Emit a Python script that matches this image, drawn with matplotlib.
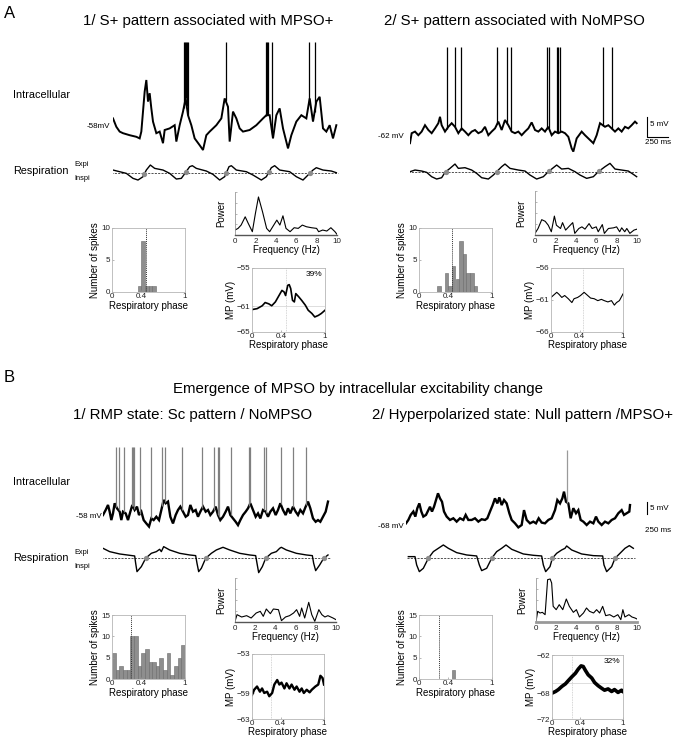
import numpy as np
import matplotlib
matplotlib.use('Agg')
import matplotlib.pyplot as plt

plt.rcParams['font.family'] = ['Liberation Sans', 'DejaVu Sans']

# ---------------- DATA ----------------
# A1 intracellular trace (ms, mV) and spikes
A1_t = [0,40,80,120,200,280,320,340,360,380,400,420,440,460,480,520,560,600,620,680,740,760,800,840,872,900,940,980,1040,1080,1120,1160,1240,1300,1340,1380,1400,1440,1480,1520,1560,1640,1720,1800,1840,1880,1920,1960,2000,2040,2100,2140,2200,2260,2320,2360,2400,2440,2480,2520,2560,2600,2640,2680]
A1_mv = [-56.1,-58.2,-59.4,-59.8,-60.3,-60.7,-61.1,-59.4,-54.4,-49.4,-46.5,-51.9,-49.8,-53.6,-56.9,-59.8,-59.4,-62.3,-59.0,-58.6,-57.8,-61.9,-57.8,-54.4,-51.1,-55.3,-57.8,-61.1,-62.8,-64.0,-60.3,-59.4,-57.8,-56.1,-51.1,-53.2,-61.9,-54.4,-56.1,-58.6,-59.4,-59.0,-57.8,-56.1,-55.3,-55.3,-61.1,-55.3,-53.6,-58.6,-63.6,-60.3,-56.9,-55.3,-56.1,-51.1,-56.9,-51.9,-50.7,-58.6,-59.4,-57.8,-61.1,-57.8]
A1_spikes = [848,860,872,884,900,1352,1832,1848,1864,1912,2352,2420]
A1_spike_peak = -37.0
A1_resp_t = [0,80,160,240,300,360,400,448,500,600,680,760,820,872,920,952,1000,1120,1200,1280,1340,1392,1420,1480,1600,1680,1780,1840,1900,1940,2000,2120,2200,2280,2340,2400,2440,2520,2620,2680]
A1_resp = [8,3,-2,-17,-22,-12,8,23,13,8,-2,-19,-17,1,18,21,13,5,-5,-22,-12,18,21,8,3,-7,-22,-12,15,21,8,3,-12,-22,-7,8,15,8,5,0]
A1_dots = [376,872,1360,1872,2360]

# A2
A2_t = [0,20,60,100,140,180,220,260,300,340,360,380,420,460,500,540,580,620,660,700,740,780,820,860,900,940,980,1020,1060,1100,1140,1180,1220,1260,1300,1340,1380,1420,1460,1500,1540,1580,1620,1660,1700,1740,1780,1820,1860,1900,1940,1960,2000,2060,2100,2140,2200,2240,2280,2340,2380,2420,2460,2500,2540,2580,2620,2660,2700,2720]
A2_mv = [-63.8,-61.3,-60.9,-61.8,-60.9,-59.3,-60.5,-61.3,-60.1,-58.8,-57.2,-59.3,-60.9,-59.7,-58.8,-59.7,-61.3,-60.1,-60.9,-61.8,-60.9,-60.5,-61.3,-60.9,-59.7,-61.8,-60.9,-60.1,-58.4,-60.5,-58.0,-59.3,-60.9,-61.3,-60.9,-61.8,-60.9,-60.1,-58.6,-60.5,-60.9,-60.1,-60.9,-59.7,-61.8,-60.9,-61.3,-60.9,-61.3,-62.2,-65.1,-65.9,-62.6,-60.9,-61.8,-62.6,-63.8,-61.8,-58.8,-59.7,-59.3,-60.1,-60.9,-60.1,-60.9,-59.7,-60.1,-59.3,-58.4,-58.8]
A2_spikes = [440,540,608,1048,1168,1208,1640,1668,1760,1780,1800,2320,2428]
A2_spike_peak = -39.7
A2_resp_t = [0,60,140,200,260,320,380,420,480,540,580,660,740,800,860,940,1000,1040,1100,1140,1200,1300,1380,1440,1520,1600,1660,1720,1760,1820,1900,1980,2040,2120,2200,2260,2340,2400,2460,2540,2620,2680,2720]
A2_resp = [0,5,2,-2,-15,-22,-18,-2,10,23,10,12,5,-5,-18,-22,-10,0,15,23,10,5,2,-10,-22,-15,0,12,20,8,10,0,-10,-20,-15,0,15,25,8,5,2,-8,-15]
A2_dots = [428,1040,1668,2272]

# B1
B1_t = [0,32,60,80,100,120,140,168,200,220,240,272,300,328,352,380,408,432,460,488,520,552,580,608,640,672,700,728,752,780,808,840,872,900,928,960,992,1020,1048,1080,1112,1140,1168,1200,1232,1260,1288,1320,1352,1380,1408,1440,1472,1500,1528,1560,1592,1620,1648,1680,1712,1740,1768,1800,1832,1860,1888,1920,1952,1980,2008,2040,2072,2100,2128,2160,2192,2220,2248,2280,2312,2340,2368,2400,2432,2460,2488,2520,2552,2580,2608,2640,2672,2700]
B1_mv = [-57.6,-55.5,-53.4,-56.2,-59.7,-56.9,-52.7,-54.8,-56.2,-59.7,-56.2,-56.9,-59.7,-56.2,-53.4,-55.5,-54.1,-57.6,-56.2,-59.7,-61.1,-62.4,-59.0,-59.7,-58.3,-59.7,-55.5,-51.3,-52.7,-52.0,-58.3,-61.1,-57.6,-55.5,-54.1,-56.2,-58.3,-57.6,-53.4,-56.2,-55.5,-58.3,-56.2,-54.1,-56.2,-55.5,-57.6,-56.2,-54.1,-57.6,-59.7,-58.3,-56.2,-54.1,-57.6,-59.0,-60.4,-61.8,-59.7,-57.6,-56.2,-54.8,-52.7,-55.5,-58.3,-56.9,-59.0,-55.5,-56.2,-58.3,-56.2,-54.8,-57.6,-55.5,-52.7,-55.5,-57.6,-54.8,-56.9,-54.1,-56.2,-57.6,-55.5,-56.9,-54.1,-52.0,-54.8,-59.0,-60.4,-59.7,-60.4,-58.3,-56.2,-52.0]
B1_spikes = [160,188,252,348,360,372,440,580,712,740,952,1192,1328,1380,1392,1532,1752,1768,1928,1960,2132,2280,2440]
B1_spike_peak = -29.4
B1_resp_t = [0,80,200,320,380,392,408,460,512,580,640,680,700,728,800,920,1040,1112,1128,1148,1180,1232,1300,1360,1440,1520,1640,1760,1832,1848,1868,1912,1952,2020,2080,2120,2140,2200,2320,2440,2512,2528,2552,2600,2648,2700]
B1_resp = [30,20,13,9,7,-15,-40,-25,0,15,20,27,20,35,25,15,10,8,-15,-40,-30,0,15,25,33,25,15,10,8,-15,-43,-25,0,15,20,30,33,25,15,10,8,-15,-37,-20,0,10]
B1_dots = [512,1232,1952,2648]

# B2
B2_t = [0,28,56,88,112,136,160,184,208,240,268,288,312,336,360,384,408,432,456,488,528,568,608,648,688,716,748,788,828,868,908,948,976,1008,1040,1068,1096,1120,1148,1176,1208,1240,1268,1308,1348,1388,1416,1448,1488,1528,1560,1592,1628,1668,1708,1748,1788,1816,1848,1876,1896,1920,1948,1976,2008,2040,2068,2096,2128,2168,2208,2248,2280,2308,2348,2388,2428,2468,2508,2548,2588,2616,2648,2680,2688]
B2_mv = [-67.3,-65.9,-63.8,-62.4,-64.5,-61.0,-59.0,-62.4,-64.5,-63.8,-61.8,-60.4,-62.4,-60.4,-57.6,-54.8,-56.9,-58.3,-62.4,-64.5,-65.9,-65.2,-66.6,-65.2,-65.9,-63.8,-65.9,-65.9,-65.2,-66.6,-65.6,-65.9,-65.2,-62.4,-59.7,-56.9,-59.0,-56.5,-59.7,-57.6,-59.0,-63.1,-65.9,-67.3,-69.0,-68.0,-61.8,-65.9,-67.3,-66.6,-67.3,-65.2,-67.0,-67.3,-65.9,-65.2,-61.8,-57.6,-59.0,-56.9,-54.1,-58.3,-59.0,-65.2,-61.0,-63.1,-61.8,-65.9,-66.6,-68.0,-66.6,-67.3,-64.5,-66.6,-68.0,-66.6,-67.3,-65.9,-65.2,-63.1,-61.8,-63.8,-63.1,-62.4,-59.7]
B2_spikes = [1936]
B2_spike_peak = -36.75
B2_resp_t = [28,108,128,160,208,268,328,388,448,508,608,728,848,880,908,968,1028,1088,1148,1200,1268,1408,1528,1628,1648,1676,1728,1756,1808,1868,1908,1928,1988,2108,2248,2360,2376,2408,2468,2508,2568,2628,2680,2728]
B2_resp = [5,5,-20,-40,-30,0,20,30,40,30,17,10,7,-20,-37,-30,0,20,30,40,27,13,9,7,-20,-40,-25,0,15,25,30,37,25,13,8,7,-20,-40,-25,0,15,30,38,30]
B2_dots = [268,1028,1756,2508]

# Spike phase histograms (20 bins of 0.05)
A1_counts = [0,0,0,0,0,0,0,1,8,1,1,1,0,0,0,0,0,0,0,0]
A2_counts = [0,0,0,0,0,1,0,3,1,4,2,8,6,3,3,1,0,0,0,0]
B1_counts = [6,2,3,2,2,10,10,3,6,7,4,4,3,5,2,6,1,3,5,8]
B2_counts = [0,0,0,0,0,0,0,0,0,2,0,0,0,0,0,0,0,0,0,0]
phase_marker = {'A1': 0.46, 'A2': 0.45, 'B1': 0.26, 'B2': 0.28}

# Power spectra
A1_f = [0,0.3,0.6,1.0,1.3,1.7,2.0,2.3,2.7,3.1,3.4,3.8,4.1,4.4,4.7,5.0,5.4,5.8,6.2,6.6,7.0,7.5,8.0,8.2,8.6,9.0,9.4,9.8,10]
A1_pw = [15,20,30,55,35,10,65,115,70,20,10,30,45,30,58,20,10,22,20,30,25,22,20,10,15,12,22,10,2]
A2_f = [0,0.3,0.66,1.0,1.3,1.6,1.9,2.1,2.5,2.7,3.0,3.3,3.7,3.9,4.3,4.6,4.9,5.3,5.6,6.0,6.2,6.6,6.8,7.2,7.7,8.0,8.3,8.5,8.8,9.0,9.3,9.7,10]
A2_pw = [5,20,47,42,30,10,58,30,20,38,15,25,38,5,20,25,18,35,20,25,10,32,5,20,22,25,10,22,10,20,5,15,18]
B1_f = [0,0.2,0.66,1.15,1.6,2.1,2.5,2.8,3.1,3.5,3.8,4.3,4.6,5.0,5.4,5.8,6.1,6.4,6.6,6.9,7.3,7.6,7.9,8.3,8.6,8.9,9.2,9.7,10]
B1_pw = [2,22,15,19,12,27,32,17,39,25,39,37,4,15,19,27,37,17,42,12,59,22,2,37,22,15,19,12,7]
B2_f = [0,0.17,0.4,0.63,0.9,1.15,1.4,1.55,1.7,2.0,2.3,2.65,3.0,3.3,3.7,4.0,4.3,4.7,5.0,5.3,5.7,6.0,6.3,6.6,6.9,7.3,7.7,8.1,8.4,8.6,8.8,9.2,9.5,9.8,10]
B2_pw = [2,32,27,29,22,127,129,117,47,37,52,37,69,47,29,37,15,27,42,32,27,37,27,47,19,22,15,22,7,37,15,22,15,12,9]

# Membrane potential vs respiratory phase
A1_ph = [0,0.07,0.14,0.18,0.23,0.27,0.32,0.36,0.41,0.44,0.46,0.49,0.51,0.53,0.555,0.58,0.60,0.64,0.68,0.73,0.77,0.82,0.86,0.91,0.95,1.0]
A1_mp = [-61.5,-61.35,-60.9,-60.4,-60.6,-60.9,-60.3,-59.5,-58.5,-58.75,-59.3,-57.7,-57.6,-58.2,-60.05,-60.3,-59.0,-59.5,-60.05,-60.8,-61.6,-62.1,-62.65,-62.4,-62.1,-61.6]
A2_ph = [0,0.03,0.08,0.11,0.15,0.19,0.24,0.29,0.32,0.37,0.41,0.46,0.51,0.55,0.60,0.65,0.70,0.74,0.79,0.84,0.88,0.91,0.95,1.0]
A2_mp = [-60.6,-60.3,-59.8,-60.1,-60.6,-60.3,-60.8,-61.4,-60.8,-60.6,-60.3,-59.8,-60.3,-60.7,-60.8,-61.1,-60.9,-61.1,-61.3,-61.1,-61.8,-61.4,-61.1,-60.05]
B1_ph = [0,0.03,0.07,0.11,0.14,0.17,0.21,0.24,0.28,0.31,0.35,0.38,0.41,0.45,0.48,0.52,0.55,0.59,0.62,0.66,0.69,0.72,0.76,0.80,0.83,0.88,0.92,0.95,0.98,1.0]
B1_mp = [-59.3,-58.5,-58.0,-58.8,-58.3,-59.0,-58.8,-59.5,-59.0,-57.7,-57.0,-57.7,-57.4,-58.3,-57.5,-58.3,-57.7,-58.5,-58.0,-58.8,-58.3,-59.0,-58.5,-58.9,-58.5,-58.0,-57.7,-56.35,-56.7,-57.7]
B2_ph = [0,0.05,0.09,0.14,0.19,0.23,0.28,0.33,0.37,0.41,0.44,0.47,0.51,0.56,0.60,0.65,0.70,0.74,0.79,0.84,0.88,0.93,0.98,1.0]
B2_mp = [-67.96,-67.7,-67.4,-66.9,-66.5,-66.0,-65.4,-64.85,-64.2,-63.7,-63.8,-64.4,-65.1,-65.6,-66.3,-66.8,-67.2,-67.5,-67.3,-67.7,-67.4,-67.85,-67.5,-67.7]
mp_yticks = {'A1': [-65, -61, -55], 'A2': [-66, -61, -56], 'B1': [-63, -59, -53], 'B2': [-72, -68, -62]}
mp_hline = {'A1': -61, 'B2': -66.3}
mp_percent = {'A1': '39%', 'B2': '32%'}

# ---------------- FIGURE ----------------
W, H = 675, 741
fig = plt.figure(figsize=(W/100, H/100), dpi=100)

def axpx(x0, y0, x1, y1):
    return fig.add_axes([x0/W, 1 - y1/H, (x1-x0)/W, (y1-y0)/H])

def tpx(x, y, s, **kw):
    kw.setdefault('va', 'center')
    fig.text(x/W, 1 - y/H, s, **kw)

MS_PER_PX = 12.0

def trace_panel(x0, x1, y0, y1, ymin, ymax, t, mv, spikes, peak, lw, spike_color):
    ax = axpx(x0, y0, x1, y1)
    ax.plot(t, mv, color='black', lw=lw, solid_joinstyle='miter')
    base = np.interp(spikes, t, mv)
    ax.vlines(spikes, base, peak, color=spike_color, lw=0.9)
    ax.set_xlim(0, (x1 - x0) * MS_PER_PX)
    ax.set_ylim(ymin, ymax)
    ax.axis('off')
    return ax

def resp_panel(x0, x1, y0, y1, ydash, t, r, dots):
    ax = axpx(x0, y0, x1, y1)
    ax.set_xlim(0, (x1 - x0) * MS_PER_PX)
    ax.set_ylim(-(y1 - ydash) * 3, (ydash - y0) * 3)
    ax.hlines(0, t[0] - 20, t[-1] + 20, colors='#333333', linestyles=(0, (2.5, 1.5)), lw=0.6)
    ax.plot(t, r, color='black', lw=1.0)
    ax.plot(dots, np.interp(dots, t, r), 'o', color='#8c8c8c', ms=3.8, mec='none')
    ax.axis('off')
    return ax

def style_box(ax):
    for s in ax.spines.values():
        s.set_color('#b5b5b5')
        s.set_linewidth(0.6)
    ax.tick_params(labelsize=5.8, length=1.5, width=0.5, color='#999999', pad=1, direction='in', labelcolor='#222222')

def hist_panel(box, counts, ymax, yticks, marker):
    ax = axpx(*box)
    edges = np.linspace(0, 1, len(counts) + 1)
    ax.bar(edges[:-1], counts, width=edges[1] - edges[0], align='edge',
           color='#8e8e8e', edgecolor='#6a6a6a', lw=0.4)
    ax.axvline(marker, color='#333333', ls=(0, (1, 1)), lw=0.7)
    ax.set_xlim(0, 1)
    ax.set_ylim(0, ymax)
    ax.set_xticks([0, 0.4, 1])
    ax.set_xticklabels(['0', '0.4', '1'])
    ax.set_yticks(yticks)
    style_box(ax)
    ax.set_ylabel('Number of spikes', fontsize=7, labelpad=1)
    ax.set_xlabel('Respiratory phase', fontsize=7, labelpad=0.5)
    return ax

def power_panel(box, f, p, ymax, bottom_lw=1.0, bottom_color='#555555'):
    ax = axpx(*box)
    ax.plot(f, p, color='black', lw=0.8)
    ax.set_xlim(0, 10)
    ax.set_ylim(0, ymax)
    ax.spines['top'].set_visible(False)
    ax.spines['right'].set_visible(False)
    ax.spines['left'].set_color('#999999')
    ax.spines['left'].set_linewidth(0.6)
    ax.spines['bottom'].set_color(bottom_color)
    ax.spines['bottom'].set_linewidth(bottom_lw)
    ax.set_xticks([0, 2, 4, 6, 8, 10])
    ax.set_yticks(np.linspace(0, ymax, 5)[1:])
    ax.set_yticklabels([])
    ax.tick_params(axis='x', labelsize=5.8, length=0, pad=2, labelcolor='#222222')
    ax.tick_params(axis='y', length=1.5, width=0.5, color='#999999', direction='in')
    ax.set_ylabel('Power', fontsize=7, labelpad=3)
    ax.set_xlabel('Frequency (Hz)', fontsize=7, labelpad=0.5)
    return ax

def mp_panel(box, ph, mp, yt, marker, lw, key):
    ax = axpx(*box)
    ax.axvline(marker, color='#c8c8c8', ls=(0, (1, 1)), lw=0.6)
    if key in mp_hline:
        ax.axhline(mp_hline[key], color='#d0d0d0', ls='-', lw=0.5)
    ax.plot(ph, mp, color='black', lw=lw)
    ax.set_xlim(0, 1)
    ax.set_ylim(yt[0], yt[-1])
    ax.set_xticks([0, 0.4, 1])
    ax.set_xticklabels(['0', '0.4', '1'])
    ax.set_yticks(yt)
    style_box(ax)
    ax.tick_params(axis='x', pad=0.5)
    ax.set_ylabel('MP (mV)', fontsize=7, labelpad=1)
    ax.set_xlabel('Respiratory phase', fontsize=7, labelpad=0.5)
    if key in mp_percent:
        ax.text(0.96, 0.95, mp_percent[key], transform=ax.transAxes, ha='right', va='top', fontsize=6)
    return ax

# ---------- Panel A ----------
tpx(4, 14, 'A', fontsize=12, ha='left')
tpx(208, 21, '1/ S+ pattern associated with MPSO+', fontsize=10.8, ha='center')
tpx(514, 21, '2/ S+ pattern associated with NoMPSO', fontsize=10.8, ha='center')
tpx(13, 95, 'Intracellular', fontsize=7.8, ha='left')
tpx(13, 171, 'Respiration', fontsize=7.8, ha='left')
tpx(74, 165, 'Expi', fontsize=5.3, ha='left')
tpx(74, 179, 'Inspi', fontsize=5.3, ha='left')
tpx(110, 127, '-58mV', fontsize=5.8, ha='right')
tpx(404, 137, '-62 mV', fontsize=5.8, ha='right')

# A1 trace: t=0 at px 113, -58 mV at px 126, 4 px/mV
trace_panel(113, 340, 40, 155, -58 - (155 - 126) / 4, -58 + (126 - 40) / 4,
            A1_t, A1_mv, A1_spikes, A1_spike_peak, 1.4, 'black')
resp_panel(113, 340, 155, 190, 172.7, A1_resp_t, A1_resp, A1_dots)

axA2 = trace_panel(410, 672, 40, 155, -62 - (155 - 136) / 4, -62 + (136 - 40) / 4,
                   A2_t, A2_mv, A2_spikes, A2_spike_peak, 1.4, 'black')
# scale bar 5 mV / 250 ms
sb_t = (647 - 410) * MS_PER_PX
sb_v = -62 - (137 - 136) / 4
axA2.plot([sb_t, sb_t, sb_t + 250], [sb_v + 5, sb_v, sb_v], color='black', lw=0.8, clip_on=False)
tpx(650, 124, '5 mV', fontsize=5.8, ha='left')
tpx(645, 143, '250 ms', fontsize=5.8, ha='left')
resp_panel(410, 672, 155, 190, 171.7, A2_resp_t, A2_resp, A2_dots)

hist_panel((112, 228, 185, 292), A1_counts, 10, [0, 5, 10], phase_marker['A1'])
power_panel((235, 192, 337, 235), A1_f, A1_pw, 130)
mp_panel((252, 268, 325, 332), A1_ph, A1_mp, mp_yticks['A1'], phase_marker['A1'], 1.2, 'A1')

hist_panel((419, 228, 492, 292), A2_counts, 10, [0, 5, 10], phase_marker['A2'])
power_panel((535, 191, 637, 235), A2_f, A2_pw, 135)
mp_panel((551, 268, 623, 332), A2_ph, A2_mp, mp_yticks['A2'], phase_marker['A2'], 0.8, 'A2')

# ---------- Panel B ----------
tpx(4, 377, 'B', fontsize=12, ha='left')
tpx(358, 389, 'Emergence of MPSO by intracellular excitability change', fontsize=10.8, ha='center')
tpx(193, 415, '1/ RMP state: Sc pattern / NoMPSO', fontsize=10.8, ha='center')
tpx(522, 415, '2/ Hyperpolarized state: Null pattern /MPSO+', fontsize=10.8, ha='center')
tpx(13, 482, 'Intracellular', fontsize=7.8, ha='left')
tpx(13, 558, 'Respiration', fontsize=7.8, ha='left')
tpx(74, 552, 'Expi', fontsize=5.3, ha='left')
tpx(74, 566, 'Inspi', fontsize=5.3, ha='left')
tpx(102, 517, '-58 mV', fontsize=5.8, ha='right')
tpx(404, 526, '-68 mV', fontsize=5.8, ha='right')

# B: 2.4 px/mV
trace_panel(103, 335, 440, 535, -58 - (535 - 516) / 2.4, -58 + (516 - 440) / 2.4,
            B1_t, B1_mv, B1_spikes, B1_spike_peak, 1.7, '#808080')
resp_panel(103, 335, 538, 580, 558.3, B1_resp_t, B1_resp, B1_dots)

axB2 = trace_panel(406, 672, 440, 535, -68 - (535 - 525) / 2.4, -68 + (525 - 440) / 2.4,
                   B2_t, B2_mv, B2_spikes, B2_spike_peak, 1.7, '#9a9a9a')
sbB_t = (647 - 406) * MS_PER_PX
sbB_v = -68 - (514 - 525) / 2.4
axB2.plot([sbB_t, sbB_t], [sbB_v, sbB_v + 5], color='black', lw=0.8, clip_on=False)
tpx(650, 508, '5 mV', fontsize=5.8, ha='left')
tpx(645, 530, '250 ms', fontsize=5.8, ha='left')
resp_panel(406, 672, 538, 580, 558.3, B2_resp_t, B2_resp, B2_dots)

hist_panel((112, 615, 185, 679), B1_counts, 15, [0, 5, 10, 15], phase_marker['B1'])
power_panel((235, 578, 336, 622), B1_f, B1_pw, 132)
mp_panel((252, 654, 324, 719), B1_ph, B1_mp, mp_yticks['B1'], phase_marker['B1'], 1.7, 'B1')

hist_panel((419, 615, 492, 679), B2_counts, 15, [0, 5, 10, 15], phase_marker['B2'])
power_panel((536, 578, 637, 622), B2_f, B2_pw, 132, bottom_lw=2.0, bottom_color='#999999')
mp_panel((552, 655, 623, 719), B2_ph, B2_mp, mp_yticks['B2'], phase_marker['B2'], 2.6, 'B2')

fig.savefig('out.png', dpi=100)
